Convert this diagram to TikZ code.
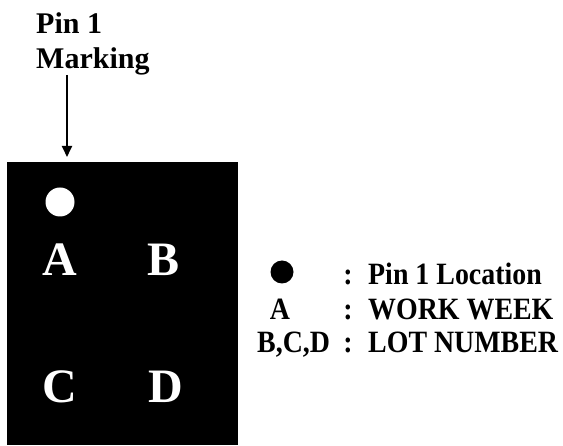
\documentclass[tikz,border=0pt]{standalone}
\usepackage{fontspec}
\setmainfont{Liberation Serif}
\newfontfamily\keyfont[FakeStretch=0.9]{Liberation Serif}
\usetikzlibrary{arrows.meta, positioning}

\begin{document}
\begin{tikzpicture}[
    x=1pt, y=-1pt,
    chipletter/.style={text=white, inner sep=0pt, anchor=base,
                       font=\fontsize{48}{48}\selectfont\bfseries},
    keytext/.style={inner sep=0pt, anchor=base west,
                    font=\keyfont\fontsize{31}{31}\selectfont\bfseries},
    pinarrow/.style={-{Triangle[width=10pt,length=11pt]}, line width=1.8pt}
]
    \useasboundingbox (0,0) rectangle (563,446);

    % Marking label and arrow
    \node[inner sep=0pt, anchor=north west, align=left,
          font=\fontsize{30}{35}\selectfont\bfseries] (title) at (36,12) {Pin 1\\Marking};

    % Package body
    \node[fill=black, inner sep=0pt, anchor=north west,
          minimum width=231pt, minimum height=283pt] (chip) at (7,162) {};
    \draw[pinarrow] ([xshift=31pt]title.south west) -- ([xshift=31pt]title.south west |- chip.north)
        [shorten >=5pt];

    % Pin 1 dot and marking letters
    \node[circle, fill=white, inner sep=0pt, minimum size=29pt] (pindot) at (60,202) {};
    \node[chipletter] (markA) at (60,276) {A};
    \node[chipletter] (markB) at (164,276) {B};
    \node[chipletter] (markC) at (60,403) {C};
    \node[chipletter] (markD) at (166,403) {D};

    % Legend
    \node[circle, fill=black, inner sep=0pt, minimum size=23pt] (keydot) at (282,272) {};
    \node[keytext, anchor=base] (keyA) at (280,320) {A};
    \node[keytext] (keyBCD) at (257,353) {B,C,D};
    \foreach \y/\i in {285/1,320/2,353/3} {
        \node[keytext, anchor=base] (colon\i) at (348,\y) {:};
    }
    \node[keytext] (desc1) at (368,285) {Pin 1 Location};
    \node[keytext] (desc2) at (368,320) {WORK WEEK};
    \node[keytext] (desc3) at (368,353) {LOT NUMBER};
\end{tikzpicture}
\end{document}
